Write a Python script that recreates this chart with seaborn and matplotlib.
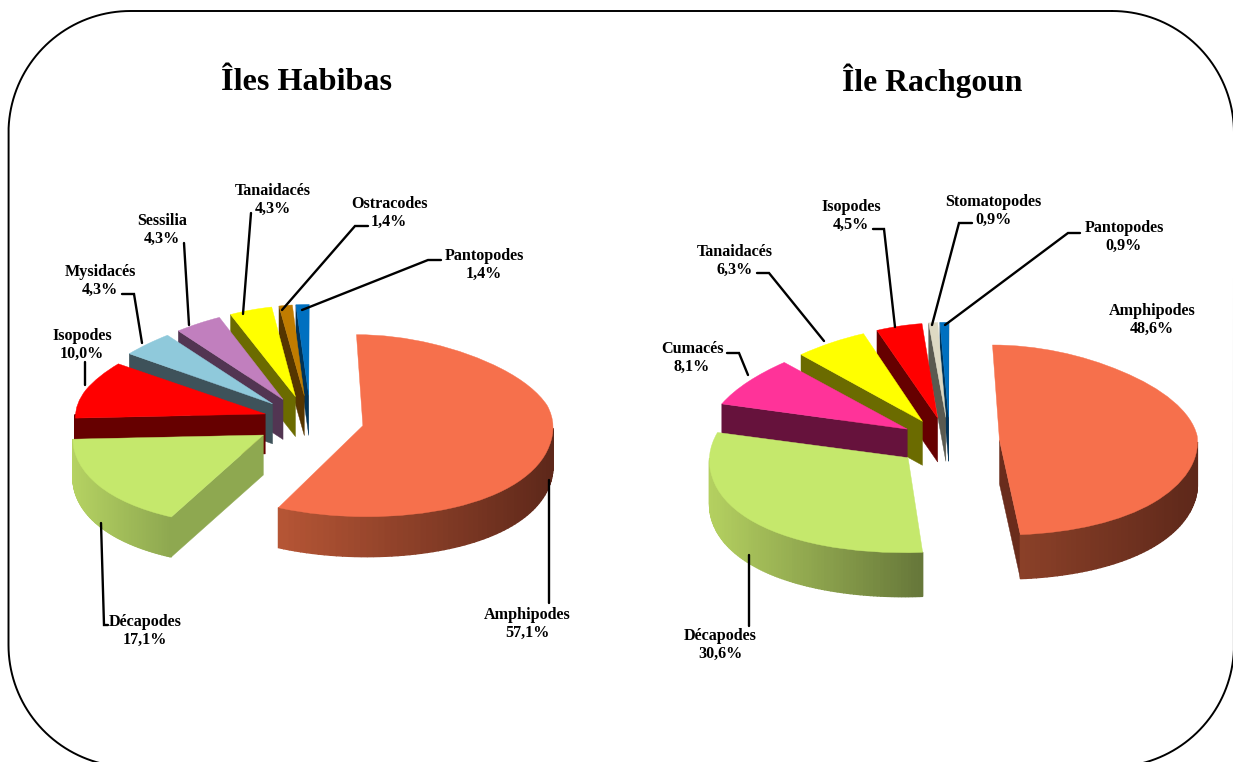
# 3D looking exploded pies for the two islands
import numpy as np
import matplotlib
matplotlib.use('Agg')
import matplotlib.pyplot as plt
import seaborn as sns
from matplotlib.patches import Polygon
from matplotlib.transforms import Transform

W, H = 1233, 762

# Iles Habibas
groups_hab = ['Amphipodes', 'Décapodes', 'Isopodes', 'Mysidacés', 'Sessilia', 'Tanaidacés', 'Ostracodes', 'Pantopodes']
values_hab = [57.1, 17.1, 10.0, 4.3, 4.3, 4.3, 1.4, 1.4]
explode_hab = [0.28, 0.3, 0.25, 0.27, 0.27, 0.27, 0.27, 0.27]
tops_hab = ['#F6704C', '#C5E86C', '#FF0000', '#8FC9DB', '#C17FBE', '#FFFF00', '#C07C00', '#0070C0']
rim_light_hab = ['#B55535', '#B5D262', '#660000', '#3E525A', '#523552', '#6B6B00', '#553500', '#003358']
rim_dark_hab = ['#5E281A', '#8EA850', '#660000', '#3E525A', '#523552', '#6B6B00', '#553500', '#003358']
cuts_hab = ['#5E281A', '#8EA850', '#660000', '#3E525A', '#523552', '#6B6B00', '#553500', '#003358']

# Ile Rachgoun
groups_rac = ['Amphipodes', 'Décapodes', 'Cumacés', 'Tanaidacés', 'Isopodes', 'Stomatopodes', 'Pantopodes']
values_rac = [48.6, 30.6, 8.1, 6.3, 4.5, 0.9, 0.9]
explode_rac = [0.25, 0.275, 0.25, 0.25, 0.25, 0.25, 0.25]
tops_rac = ['#F6704C', '#C5E86C', '#FF3399', '#FFFF00', '#FF0000', '#DDD9C3', '#0070C0']
rim_light_rac = ['#8A4028', '#B4D060', '#66123C', '#6B6B00', '#660000', '#5A5A50', '#003358']
rim_dark_rac = ['#5E281A', '#66773A', '#66123C', '#6B6B00', '#660000', '#5A5A50', '#003358']
cuts_rac = ['#6A2C1C', '#66773A', '#66123C', '#6B6B00', '#660000', '#5A5A50', '#003358']

# label anchors and leader lines, in picture pixels
label_xy_hab = [(527, 624), (145, 631), (82, 345), (100, 281), (162, 230), (273, 200), (389, 213), (484, 265)]
leaders_hab = [[(549, 480), (549, 603)],
               [(101, 523), (104, 625), (108, 625)],
               [(85, 362), (85, 385)],
               [(122, 294), (134, 294), (142, 343)],
               [(184, 243), (189, 325)],
               [(251, 213), (243, 314)],
               [(368, 226), (355, 226), (282, 310)],
               [(441, 260), (428, 260), (302, 310)]]
label_xy_rac = [(1152, 320), (720, 645), (692, 358), (735, 261), (851, 216), (993, 211), (1124, 237)]
leaders_rac = [[(749, 555), (749, 626)],
               [(727, 353), (739, 353), (748, 375)],
               [(757, 273), (769, 273), (824, 341)],
               [(873, 229), (884, 229), (895, 327)],
               [(972, 223), (959, 223), (932, 325)],
               [(1080, 233), (1068, 233), (945, 325)]]


class Squeeze(Transform):
    # narrows x towards the back of the pie, the way the tilted view does
    input_dims = output_dims = 2

    def __init__(self, back, front):
        super().__init__()
        self.back = back
        self.front = front

    def transform_non_affine(self, values):
        x, y = np.asarray(values).T
        s = 1 + self.back * np.maximum(y, 0) ** 2 - self.front * np.minimum(y, 0) ** 2
        return np.column_stack([x / s, y])


def draw_pie(fig, values, explode, tops, rim_light, rim_dark, cuts, cx, cy, rx, ry, depth):
    ax = fig.add_axes([0, 0, 1, 1])
    wedges, _ = ax.pie(values, explode=explode, colors=tops, startangle=90, counterclock=False, radius=1)
    ax.set_aspect('auto')
    ax.set_xlim(-cx / rx, (W - cx) / rx)
    ax.set_ylim((cy - H) / ry, cy / ry)
    ax.patch.set_alpha(0)
    d = depth / ry
    sq = Squeeze(0.16, 0.06)

    # back slices first so the front ones paint over them
    order = sorted(range(len(wedges)), key=lambda i: -wedges[i].center[1])
    for z, i in enumerate(order):
        w = wedges[i]
        x0, y0 = w.center
        w.set_transform(sq + ax.transData)
        w.set_zorder(z * 2 + 1.5)
        w.set_edgecolor(tops[i])
        w.set_linewidth(0.3)
        for ang in (w.theta1, w.theta2):
            c = np.cos(np.radians(ang))
            visible = c > 0 if ang == w.theta1 else c < 0
            if visible:
                (ax0, ay0), (px, py) = sq.transform([(x0, y0), (x0 + c, y0 + np.sin(np.radians(ang)))])
                ax.add_patch(Polygon([(ax0, ay0), (px, py), (px, py - d), (ax0, ay0 - d)],
                                     fc=cuts[i], ec=cuts[i], lw=0.3, zorder=z * 2 + 1))
        # rim strips, only the part facing the viewer
        t = np.linspace(w.theta1, w.theta2, 120)
        t = t[np.sin(np.radians(t)) < 0]
        if len(t) < 2:
            continue
        rim = sq.transform(np.column_stack([x0 + np.cos(np.radians(t)), y0 + np.sin(np.radians(t))]))
        xs, ys = rim[:, 0], rim[:, 1]
        pal = sns.blend_palette([rim_light[i], rim_dark[i]], 100)
        for k in range(len(t) - 1):
            f = (min(xs[k], xs[k + 1]) - xs.min()) / max(np.ptp(xs), 1e-6)
            col = pal[min(int(f * 100), 99)]
            ax.add_patch(Polygon([(xs[k], ys[k]), (xs[k + 1], ys[k + 1]),
                                  (xs[k + 1], ys[k + 1] - d), (xs[k], ys[k] - d)],
                                 fc=col, ec=col, lw=1.0, zorder=z * 2 + 1.2))
    return ax


def pct(v):
    return f'{v:.1f}%'.replace('.', ',')


sns.set_theme(style='white')
plt.rcParams['font.family'] = ['Liberation Serif', 'DejaVu Serif']

fig = plt.figure(figsize=(W / 100, H / 100), dpi=100, facecolor='white')

draw_pie(fig, values_hab, explode_hab, tops_hab, rim_light_hab, rim_dark_hab, cuts_hab, 311, 420, 190, 91, 40)
draw_pie(fig, values_rac, explode_rac, tops_rac, rim_light_rac, rim_dark_rac, cuts_rac, 950, 441, 198, 95, 44)

# overlay in pixel coordinates for frame, leaders and text
over = fig.add_axes([0, 0, 1, 1], zorder=10)
over.set_xlim(0, W)
over.set_ylim(H, 0)
over.axis('off')
over.patch.set_alpha(0)

# rounded frame, runs off the bottom and right of the picture
left, right, top, bottom, r = 8.5, 1234, 11, 767, 122
fx, fy = [], []
for (ccx, ccy, a0) in [(right - r, top + r, -90), (right - r, bottom - r, 0), (left + r, bottom - r, 90), (left + r, top + r, 180)]:
    a = np.radians(np.linspace(a0, a0 + 90, 40))
    fx.extend(ccx + r * np.cos(a))
    fy.extend(ccy + r * np.sin(a))
over.plot(fx + fx[:1], fy + fy[:1], color='black', lw=1.4)

for pts in leaders_hab + leaders_rac:
    over.plot([p[0] for p in pts], [p[1] for p in pts], color='black', lw=1.7, solid_joinstyle='miter')

for names, vals, xy in [(groups_hab, values_hab, label_xy_hab), (groups_rac, values_rac, label_xy_rac)]:
    for name, v, (x, y) in zip(names, vals, xy):
        over.text(x, y, f'{name}\n{pct(v)}', ha='center', va='center', fontsize=11.6,
                  fontweight='bold', color='black', linespacing=1.2)

over.text(306.5, 90, 'Îles Habibas', ha='center', va='baseline', fontsize=23.2, fontweight='bold', color='black')
over.text(932, 91, 'Île Rachgoun', ha='center', va='baseline', fontsize=22.8, fontweight='bold', color='black')

fig.savefig('out.png', dpi=100)
